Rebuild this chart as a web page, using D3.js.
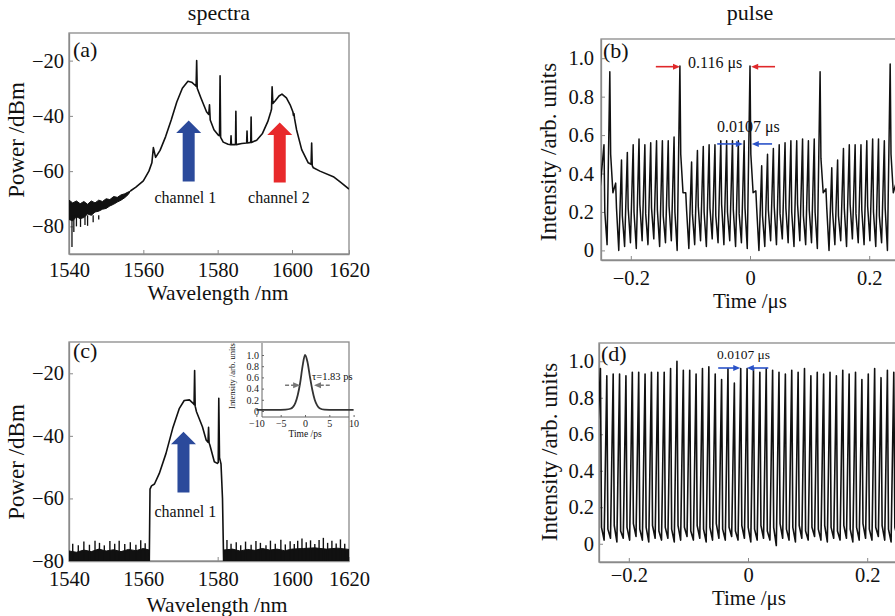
<!DOCTYPE html>
<html><head><meta charset="utf-8">
<script src="https://cdn.jsdelivr.net/npm/d3@7"></script>
<style>
body{margin:0;background:#fff;}
svg{display:block;font-family:"Liberation Serif","DejaVu Serif",serif;}
svg text{font-family:"Liberation Serif","DejaVu Serif",serif;}
</style></head><body>
<svg id="c" width="895" height="616"></svg>
<script>
// ---------- tick values ----------
const wlTicks = [1540, 1560, 1580, 1600, 1620];
const powerTicks = [-80, -60, -40, -20];
const timeTicks = [-0.2, 0, 0.2];
const intensityTicks = [0, 0.2, 0.4, 0.6, 0.8, 1.0];
const insetTimeTicks = [-10, -5, 0, 5, 10];
const insetIntTicks = [0, 0.2, 0.4, 0.6, 0.8, 1.0];

// ---------- (a) spectrum ----------
const specA_wl = [1556.5,1558,1560,1561.5,1562.3,1562.7,1563.3,1564.5,1566,1567.5,1569,1570.5,1572,1573,1574.0,1574.2,1574.35,1574.5,1575.5,1577,1577.6,1577.8,1578.0,1579,1580.2,1580.5,1580.65,1580.8,1581.5,1582.8,1583.5,1583.6,1583.7,1584.8,1584.9,1585.0,1586.5,1587.8,1587.9,1588.0,1588.9,1589.0,1589.1,1590.5,1592,1593.5,1594.3,1594.5,1594.65,1594.85,1595.5,1596.5,1597.3,1598.5,1599.5,1600.3,1600.5,1600.7,1600.9,1601.6,1603.4,1605.7,1606.7,1606.9,1607.1,1607.5,1609.8,1614.5,1617,1620];
const specA_p = [-67.2,-65.8,-63.5,-60,-57,-51.5,-55,-52.5,-47.5,-41.5,-35,-30,-27.5,-27.8,-29,-29.3,-20,-30,-33.5,-38.5,-39.5,-36,-41.5,-45,-47,-47.2,-25.5,-47.8,-49.5,-50.3,-50.4,-47.2,-50.4,-50.4,-38.3,-50.4,-50,-49.8,-45.5,-49.8,-49.6,-40.4,-49.6,-48.8,-46.5,-42,-38.5,-37.5,-29.5,-35.5,-34.5,-32.8,-32.1,-33.5,-36,-38.5,-39.8,-39.2,-41,-45,-52.2,-57,-57.5,-49.8,-58,-58.8,-60,-62,-64,-66.5];
// noise band at short wavelengths
const noiseA_wl = [1540,1541,1542,1543,1544,1545,1546,1547,1548,1549,1550,1551,1552,1553,1554,1555,1556,1556.5];
const noiseA_hi = [-70.5,-71.5,-70.8,-71.8,-71,-72,-70.8,-71.5,-70.5,-71,-70,-70.3,-69.2,-69.5,-68.6,-68.2,-67.5,-67.2];
const noiseA_lo = [-77.5,-78,-76.5,-77.2,-76.8,-75.5,-76,-74.8,-74.5,-73.8,-73.5,-72.6,-72,-71.2,-70.5,-69.6,-68.4,-67.2];
const dipsA_wl = [1540.8,1541.3,1542.0,1543.1,1544.3,1545.0,1546.5,1548.0];
const dipsA_p = [-87.5,-82,-80,-80.2,-79.5,-79.8,-78.5,-77.5];

// ---------- (c) spectrum ----------
const specC_wl = [1561.6,1561.8,1562.2,1563.0,1564.3,1566.1,1567.9,1569.7,1571.0,1572.4,1573.4,1573.65,1573.8,1573.95,1574.3,1575.9,1576.9,1577.4,1577.55,1577.7,1577.9,1579.1,1579.9,1580.15,1580.3,1580.5,1580.9,1581.3,1581.6];
const specC_p = [-80,-57,-56,-55.4,-52,-45.6,-37.6,-31.2,-28.7,-28.5,-29.6,-30,-19.1,-30.5,-32.3,-37.1,-41.3,-42,-37.3,-42.3,-42.9,-48.3,-48.8,-48.5,-28,-47,-49,-60,-80];
const floorCL_wl = [1540,1542,1544,1546,1548,1550,1552,1554,1556,1558,1560,1561.6];
const floorCL_p = [-76.8,-77.2,-76.5,-77,-76.2,-76.8,-76.4,-77,-76.3,-76.7,-76,-76.5];
const floorCR_wl = [1581.6,1584,1586,1588,1590,1592,1594,1596,1598,1600,1604,1608,1612,1616,1620];
const floorCR_p = [-76.5,-76.2,-76.8,-76.3,-76.6,-76,-76.5,-76.2,-76.7,-76.2,-76,-75.8,-76.2,-75.9,-76.3];
const spikesC_wl = [1541,1542.5,1544,1545.5,1547,1548.2,1549.5,1551,1552.3,1553.5,1555,1556.5,1558,1559.3,1560.5,
  1582.5,1583.6,1585,1586.2,1587.5,1589,1590.3,1591.5,1593,1594.2,1595.5,1597,1598.2,1599.5,1600.8,1602,1603.5,1605,1606.5,1608,1609.5,1611,1612.5,1614,1615.5,1617,1618.5];
const spikesC_p = [-74.5,-75,-73.8,-74.8,-73.5,-74.2,-75,-73.6,-74.5,-73.5,-74.6,-74,-74.8,-73.4,-74.3,
  -73.3,-74.5,-74,-75,-73.8,-74.8,-73.6,-74.2,-75,-73.5,-74.5,-73.2,-74.7,-73.7,-74.6,-73.5,-72.8,-74,-73.4,-74.6,-73.3,-72.6,-74.2,-73.5,-74.4,-73.1,-74.5];

// inset autocorrelation
const insetT = [-10,-6,-4,-3,-2.5,-2,-1.5,-1,-0.5,0,0.5,1,1.5,2,2.5,3,4,6,10];
const insetI = [0.02,0.02,0.025,0.04,0.07,0.14,0.28,0.50,0.80,1.0,0.88,0.62,0.38,0.2,0.1,0.05,0.025,0.02,0.02];

// ---------- (b) pulse train ----------
const timesB = [-0.2450,-0.2352,-0.2254,-0.2156,-0.2058,-0.1960,-0.1862,-0.1764,-0.1666,-0.1568,-0.1470,-0.1372,-0.1274,-0.1176,-0.1078,-0.0980,-0.0882,-0.0784,-0.0686,-0.0588,-0.0490,-0.0392,-0.0294,-0.0196,-0.0098,0,0.0098,0.0196,0.0294,0.0392,0.0490,0.0588,0.0686,0.0784,0.0882,0.0980,0.1078,0.1176,0.1274,0.1372,0.1470,0.1568,0.1666,0.1764,0.1862,0.1960,0.2058,0.2156,0.2254,0.2352,0.2450];
const peaksB = [0.55,0.93,0.35,0.47,0.51,0.55,0.58,0.55,0.56,0.57,0.57,0.57,0.59,0.96,0.30,0.46,0.52,0.54,0.55,0.55,0.57,0.57,0.57,0.57,0.57,0.96,0.31,0.44,0.50,0.53,0.55,0.56,0.57,0.57,0.58,0.57,0.58,0.93,0.32,0.43,0.47,0.53,0.55,0.55,0.55,0.57,0.58,0.58,0.57,0.97,0.35];
const shouldersB = [0.20,0.50,0.22,0.18,0.22,0.20,0.24,0.19,0.22,0.21,0.18,0.23,0.20,0.50,0.21,0.19,0.23,0.20,0.22,0.18,0.24,0.20,0.21,0.19,0.22,0.50,0.22,0.18,0.21,0.23,0.19,0.22,0.20,0.24,0.18,0.21,0.20,0.48,0.22,0.20,0.18,0.22,0.24,0.19,0.21,0.23,0.20,0.18,0.22,0.50,0.22];
const troughsB = [0.03,0.30,0.00,0.02,0.04,0.01,0.05,0.03,0.06,0.02,0.04,0.05,0.00,0.30,0.01,0.03,0.05,0.02,0.06,0.04,0.03,0.05,0.02,0.04,0.01,0.30,0.00,0.02,0.05,0.03,0.06,0.04,0.02,0.05,0.03,0.04,0.01,0.30,0.00,0.03,0.05,0.02,0.06,0.04,0.03,0.05,0.02,0.04,0.00,0.30,0.02];

// ---------- (d) pulse train ----------
const timesD = [-0.2476,-0.2369,-0.2262,-0.2155,-0.2048,-0.1941,-0.1834,-0.1727,-0.1620,-0.1513,-0.1406,-0.1299,-0.1192,-0.1085,-0.0978,-0.0871,-0.0764,-0.0657,-0.0550,-0.0443,-0.0336,-0.0229,-0.0122,-0.0015,0.0092,0.0199,0.0306,0.0413,0.0520,0.0627,0.0734,0.0841,0.0948,0.1055,0.1162,0.1269,0.1376,0.1483,0.1590,0.1697,0.1804,0.1911,0.2018,0.2125,0.2232,0.2339,0.2446];
const peaksD = [0.96,0.92,0.93,0.93,0.92,0.94,0.94,0.93,0.94,0.94,0.94,0.96,1.00,0.95,0.95,0.93,0.96,0.97,0.93,0.90,0.96,0.88,0.96,0.96,0.96,0.94,0.96,0.95,0.94,0.93,0.95,0.94,0.96,0.92,0.94,0.93,0.94,0.92,0.95,0.93,0.94,0.90,0.93,0.96,0.91,0.95,0.94];
const shouldersD = [0.09,0.08,0.10,0.07,0.09,0.11,0.08,0.09,0.10,0.07,0.09,0.08,0.10,0.09,0.07,0.10,0.08,0.09,0.11,0.08,0.09,0.07,0.10,0.09,0.08,0.10,0.07,0.09,0.11,0.08,0.09,0.10,0.07,0.09,0.08,0.10,0.09,0.07,0.10,0.08,0.09,0.11,0.08,0.09,0.10,0.08,0.09];
const troughsD = [0.02,0.03,0.01,0.03,0.02,0.04,0.02,0.01,0.03,0.02,0.03,0.01,0.02,0.04,0.02,0.03,0.01,0.02,0.03,0.02,0.04,0.02,0.03,0.01,0.02,0.03,0.02,-0.01,0.03,0.02,0.01,0.03,0.02,0.04,0.02,0.01,0.03,0.02,0.03,0.01,0.02,0.03,0.02,0.04,0.02,0.01,0.03];

// ---------- annotations ----------
const bigArrowsA = [{wl:1572.2, tip:-41.7, base:-63.8, color:"#2b4a9b"}, {wl:1596.7, tip:-42.4, base:-64.1, color:"#e8292b"}];
const bigArrowsC = [{wl:1570.8, tip:-38.7, base:-58.1, color:"#2b4a9b"}];
const redArrowsB = [{from:-0.158, to:-0.1175, v:0.956}, {from:0.042, to:0.002, v:0.956}];
const blueArrowsB = [{from:-0.055, to:-0.012, v:0.554}, {from:0.037, to:0.003, v:0.554}];
const blueArrowsD = [{from:-0.050, to:-0.013, v:0.963}, {from:0.034, to:-0.002, v:0.963}];
const insetArrows = [{from:-4.1, to:-1.0, v:0.46}, {from:5.1, to:1.85, v:0.46}];

// ================= drawing =================
const svg = d3.select("#c");
const GRAY = "#8a8a8a";
const SERIF = '"Liberation Serif","DejaVu Serif",serif';
const defs = svg.append("defs");

const xA = d3.scaleLinear().domain([1540, 1600, 1620]).range([69, 292, 349]);
const yA = d3.scaleLinear().domain([-90, -10]).range([254, 33]);
const xC = d3.scaleLinear().domain([1540, 1600, 1620]).range([69, 292, 349]);
const yC = d3.scaleLinear().domain([-80, -10]).range([561, 342]);
const xB = d3.scaleLinear().domain([-0.25, 0.25]).range([601, 899]);
const yB = d3.scaleLinear().domain([-0.05, 1.1]).range([260, 39]);
const xD = d3.scaleLinear().domain([-0.25, 0.25]).range([599, 897]);
const yD = d3.scaleLinear().domain([-0.1, 1.1]).range([562, 343]);

const fmtT = d => d === 0 ? "0" : d3.format(".1f")(d);

function frame(id, x, y, xt, yt, xf, yf, padB, padL) {
  const r = x.range(), xl = r[0], xr = r[r.length - 1];
  const [yb, ytp] = y.range();
  defs.append("clipPath").attr("id", id).append("rect")
    .attr("x", xl).attr("y", ytp).attr("width", xr - xl).attr("height", yb - ytp);
  svg.append("rect").attr("x", xl).attr("y", ytp).attr("width", xr - xl).attr("height", yb - ytp)
    .attr("fill", "none").attr("stroke", GRAY).attr("stroke-width", 1.3);
  const gx = svg.append("g").attr("transform", `translate(0,${yb})`)
    .call(d3.axisBottom(x).tickValues(xt).tickFormat(xf).tickSizeInner(-4).tickSizeOuter(0).tickPadding(padB));
  const gy = svg.append("g").attr("transform", `translate(${xl},0)`)
    .call(d3.axisLeft(y).tickValues(yt).tickFormat(yf).tickSizeInner(-4).tickSizeOuter(0).tickPadding(padL));
  [gx, gy].forEach(g => {
    g.attr("font-family", null).attr("font-size", null);
    g.select(".domain").attr("stroke", GRAY).attr("stroke-width", 1.3);
    g.selectAll(".tick line").attr("stroke", GRAY).attr("stroke-width", 1);
    g.selectAll(".tick text").style("font-size", "20.5px").attr("fill", "#111")
      .style("font-family", SERIF);
  });
  return svg.append("g").attr("clip-path", `url(#${id})`);
}

function text(g, x, y, s, size, anchor, rot) {
  const t = g.append("text").attr("x", x).attr("y", y).text(s).style("font-size", size + "px")
    .style("font-family", SERIF).attr("text-anchor", anchor || "middle").attr("fill", "#111");
  if (rot) t.attr("transform", `rotate(-90,${x},${y})`);
  return t;
}

function bigArrow(g, x, y, a) {
  const px = x(a.wl), pt = y(a.tip), pb = y(a.base);
  const hw = 12.5, hl = 12.5, sw = 6;
  g.append("path").attr("d", d3.line()([[px, pt], [px + hw, pt + hl], [px + sw, pt + hl], [px + sw, pb], [px - sw, pb], [px - sw, pt + hl], [px - hw, pt + hl]]) + "Z")
    .attr("fill", a.color);
}

function smallArrow(g, x, y, a, color, dash) {
  const x0 = x(a.from), x1 = x(a.to), yy = y(a.v);
  const dir = Math.sign(x1 - x0);
  const l = g.append("line").attr("x1", x0).attr("x2", x1 - dir * 5).attr("y1", yy).attr("y2", yy)
    .attr("stroke", color).attr("stroke-width", 1.6);
  if (dash) l.attr("stroke-dasharray", dash);
  g.append("path").attr("d", d3.line()([[x1, yy], [x1 - dir * 7, yy - 3], [x1 - dir * 7, yy + 3]]) + "Z")
    .attr("fill", color);
}

function pulsePts(times, peaks, sh, tr, fall, trDt, start) {
  const pts = [[start, tr[0]]];
  times.forEach((t, i) => { pts.push([t, peaks[i]], [t + fall, sh[i]], [t + trDt, tr[i]]); });
  return pts;
}

// ----- titles -----
text(svg, 219, 20, "spectra", 22);
text(svg, 750, 20, "pulse", 22);

// ===== (a) =====
const gA = frame("clipA", xA, yA, wlTicks, powerTicks, d3.format("d"), d3.format("d"), 8, 5);
gA.append("path").datum(noiseA_wl.map((w, i) => [w, noiseA_hi[i], noiseA_lo[i]]))
  .attr("d", d3.area().x(d => xA(d[0])).y0(d => yA(d[2])).y1(d => yA(d[1])))
  .attr("fill", "#111").attr("stroke", "#111").attr("stroke-width", 1);
dipsA_wl.forEach((w, i) => {
  gA.append("line").attr("x1", xA(w)).attr("x2", xA(w)).attr("y1", yA(-76)).attr("y2", yA(dipsA_p[i]))
    .attr("stroke", "#111").attr("stroke-width", 1.3);
});
gA.append("path").datum(specA_wl.map((w, i) => [w, specA_p[i]]))
  .attr("d", d3.line().x(d => xA(d[0])).y(d => yA(d[1])))
  .attr("fill", "none").attr("stroke", "#111").attr("stroke-width", 1.6).attr("stroke-linejoin", "round");
bigArrowsA.forEach(a => bigArrow(svg, xA, yA, a));
text(svg, xA(1571.3), yA(-71.4), "channel 1", 16);
text(svg, xA(1596.5), yA(-71.4), "channel 2", 16);
text(svg, 73, 57, "(a)", 22, "start");
text(svg, 19, 140, "Power /dBm", 23, "middle", true).attr("dominant-baseline", "middle");
text(svg, 218, 300, "Wavelength /nm", 21.5);

// ===== (b) =====
const gB = frame("clipB", xB, yB, timeTicks, intensityTicks, fmtT, fmtT, 10, 7);
gB.append("path").datum(pulsePts(timesB, peaksB, shouldersB, troughsB, 0.0014, 0.0052, -0.26))
  .attr("d", d3.line().x(d => xB(d[0])).y(d => yB(d[1])))
  .attr("fill", "none").attr("stroke", "#111").attr("stroke-width", 1.5).attr("stroke-linejoin", "round");
redArrowsB.forEach(a => smallArrow(svg, xB, yB, a, "#e0282a"));
blueArrowsB.forEach(a => smallArrow(svg, xB, yB, a, "#2a52c8"));
svg.append("rect").attr("x", xB(-0.104) - 2).attr("y", 56).attr("width", 62).attr("height", 17).attr("fill", "#fff");
text(svg, xB(-0.104), yB(0.949), "0.116 μs", 16, "start");
text(svg, xB(-0.0555), yB(0.616), "0.0107 μs", 16, "start");
text(svg, 603, 58, "(b)", 22, "start");
text(svg, 551, 152, "Intensity /arb. units", 23, "middle", true).attr("dominant-baseline", "middle");
text(svg, 750, 308, "Time /μs", 21);

// ===== (c) =====
const gC = frame("clipC", xC, yC, wlTicks, powerTicks, d3.format("d"), d3.format("d"), 10, 5);
[[floorCL_wl, floorCL_p], [floorCR_wl, floorCR_p]].forEach(([ws, ps]) => {
  gC.append("path").datum(ws.map((w, i) => [w, ps[i]]))
    .attr("d", d3.area().x(d => xC(d[0])).y0(yC(-80)).y1(d => yC(d[1])))
    .attr("fill", "#111").attr("stroke", "#111").attr("stroke-width", 1);
});
spikesC_wl.forEach((w, i) => {
  gC.append("line").attr("x1", xC(w)).attr("x2", xC(w)).attr("y1", yC(-80)).attr("y2", yC(spikesC_p[i]))
    .attr("stroke", "#111").attr("stroke-width", 1.4);
});
gC.append("path").datum(specC_wl.map((w, i) => [w, specC_p[i]]))
  .attr("d", d3.line().x(d => xC(d[0])).y(d => yC(d[1])))
  .attr("fill", "none").attr("stroke", "#111").attr("stroke-width", 1.6).attr("stroke-linejoin", "round");
bigArrowsC.forEach(a => bigArrow(svg, xC, yC, a));
svg.append("rect").attr("x", xC(1571.3) - 32).attr("y", yC(-66) - 14).attr("width", 64).attr("height", 18).attr("fill", "#fff");
text(svg, xC(1571.3), yC(-66), "channel 1", 16);
text(svg, 73, 358, "(c)", 22, "start");
text(svg, 19, 462, "Power /dBm", 23, "middle", true).attr("dominant-baseline", "middle");
text(svg, 217, 612, "Wavelength /nm", 21.5);

// inset
const xI = d3.scaleLinear().domain([-10, 10]).range([256.4, 353.6]);
const yI = d3.scaleLinear().domain([-0.1, 1.1]).range([416.6, 349.4]);
const gI = svg.append("g");
gI.append("line").attr("x1", 262).attr("x2", 349).attr("y1", 417).attr("y2", 417).attr("stroke", "#666").attr("stroke-width", 1);
gI.append("line").attr("x1", 262).attr("x2", 262).attr("y1", 343).attr("y2", 417).attr("stroke", "#666").attr("stroke-width", 1);
const gIx = gI.append("g").attr("transform", "translate(0,417)")
  .call(d3.axisBottom(xI).tickValues(insetTimeTicks).tickFormat(d3.format("d")).tickSizeInner(-2).tickSizeOuter(0).tickPadding(3));
const gIy = gI.append("g").attr("transform", "translate(262,0)")
  .call(d3.axisLeft(yI).tickValues(insetIntTicks).tickFormat(fmtT).tickSizeInner(-2).tickSizeOuter(0).tickPadding(3));
[gIx, gIy].forEach(g => {
  g.attr("font-family", null).attr("font-size", null);
  g.select(".domain").remove();
  g.selectAll(".tick line").attr("stroke", "#666");
  g.selectAll(".tick text").style("font-size", "10px").attr("fill", "#222").style("font-family", SERIF);
});
gI.append("path").datum(insetT.map((t, i) => [t, insetI[i]]))
  .attr("d", d3.line().curve(d3.curveMonotoneX).x(d => xI(d[0])).y(d => yI(d[1])))
  .attr("fill", "none").attr("stroke", "#333").attr("stroke-width", 1.8);
insetArrows.forEach(a => smallArrow(gI, xI, yI, a, "#777", "4,2"));
text(gI, 312, 380, "τ=1.83 ps", 10.5, "start");
text(gI, 305, 437, "Time /ps", 9.5);
text(gI, 233, 376, "Intensity /arb. units", 8.5, "middle", true).attr("dominant-baseline", "middle");

// ===== (d) =====
const gD = frame("clipD", xD, yD, timeTicks, intensityTicks, fmtT, fmtT, 5, 5);
gD.append("path").datum(pulsePts(timesD, peaksD, shouldersD, troughsD, 0.0018, 0.0062, -0.26))
  .attr("d", d3.line().x(d => xD(d[0])).y(d => yD(d[1])))
  .attr("fill", "none").attr("stroke", "#111").attr("stroke-width", 1.6).attr("stroke-linejoin", "round");
blueArrowsD.forEach(a => smallArrow(svg, xD, yD, a, "#2a52c8"));
text(svg, xD(-0.052), yD(1.012), "0.0107 μs", 13.5, "start");
text(svg, 601, 361, "(d)", 22, "start");
text(svg, 552, 452, "Intensity /arb. units", 23, "middle", true).attr("dominant-baseline", "middle");
text(svg, 749, 605, "Time /μs", 21);
</script></body></html>
